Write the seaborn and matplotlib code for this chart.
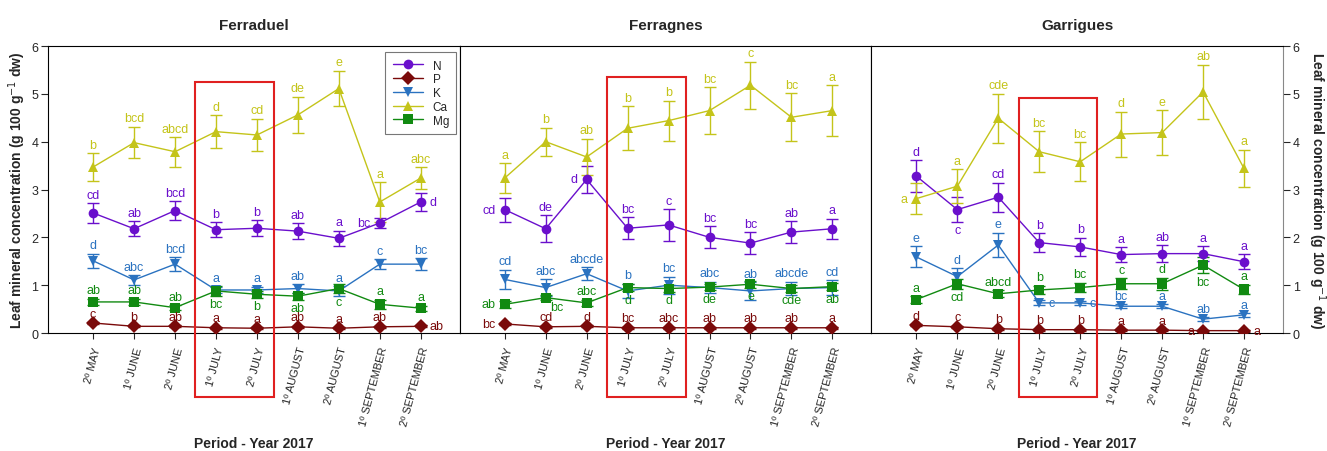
import pandas as pd
import matplotlib.pyplot as plt
import seaborn as sns
from matplotlib.patches import Rectangle

periods = ["2º MAY", "1º JUNE", "2º JUNE", "1º JULY", "2º JULY",
           "1º AUGUST", "2º AUGUST", "1º SEPTEMBER", "2º SEPTEMBER"]
elements = ["N", "P", "K", "Ca", "Mg"]
cultivars = ["Ferraduel", "Ferragnes", "Garrigues"]

ferraduel_mean = {
    "N": [2.51, 2.18, 2.56, 2.16, 2.19, 2.13, 1.98, 2.30, 2.74],
    "P": [0.21, 0.14, 0.14, 0.11, 0.10, 0.13, 0.10, 0.13, 0.14],
    "K": [1.51, 1.11, 1.44, 0.90, 0.90, 0.93, 0.88, 1.44, 1.44],
    "Ca": [3.47, 3.98, 3.79, 4.21, 4.14, 4.56, 5.11, 2.74, 3.24],
    "Mg": [0.65, 0.65, 0.53, 0.88, 0.81, 0.77, 0.93, 0.60, 0.52],
}
ferraduel_err = {
    "N": [0.20, 0.16, 0.19, 0.16, 0.17, 0.16, 0.16, 0.10, 0.18],
    "P": [0.02, 0.02, 0.02, 0.02, 0.02, 0.02, 0.02, 0.02, 0.02],
    "K": [0.15, 0.10, 0.14, 0.07, 0.07, 0.09, 0.10, 0.10, 0.13],
    "Ca": [0.29, 0.33, 0.31, 0.34, 0.34, 0.38, 0.37, 0.41, 0.23],
    "Mg": [0.07, 0.07, 0.05, 0.10, 0.07, 0.07, 0.10, 0.10, 0.05],
}
ferraduel_letters = {
    "N": ["cd", "ab", "bcd", "b", "b", "ab", "a", "bc", "d"],
    "P": ["c", "b", "ab", "a", "a", "ab", "a", "ab", "ab"],
    "K": ["d", "abc", "bcd", "a", "a", "ab", "a", "c", "bc"],
    "Ca": ["b", "bcd", "abcd", "d", "cd", "de", "e", "a", "abc"],
    "Mg": ["ab", "ab", "ab", "bc", "b", "ab", "c", "a", "a"],
}

ferragnes_mean = {
    "N": [2.58, 2.18, 3.21, 2.19, 2.26, 2.00, 1.88, 2.11, 2.18],
    "P": [0.19, 0.13, 0.14, 0.11, 0.11, 0.11, 0.11, 0.11, 0.11],
    "K": [1.12, 0.95, 1.24, 0.88, 1.00, 0.95, 0.88, 0.93, 0.95],
    "Ca": [3.24, 4.00, 3.68, 4.28, 4.44, 4.65, 5.18, 4.51, 4.65],
    "Mg": [0.60, 0.74, 0.63, 0.95, 0.93, 0.96, 1.02, 0.93, 0.97],
}
ferragnes_err = {
    "N": [0.25, 0.28, 0.28, 0.23, 0.33, 0.23, 0.23, 0.23, 0.21],
    "P": [0.02, 0.02, 0.02, 0.02, 0.02, 0.02, 0.02, 0.02, 0.02],
    "K": [0.20, 0.18, 0.14, 0.15, 0.18, 0.12, 0.18, 0.14, 0.15],
    "Ca": [0.31, 0.29, 0.38, 0.46, 0.42, 0.49, 0.49, 0.50, 0.53],
    "Mg": [0.07, 0.06, 0.07, 0.08, 0.07, 0.07, 0.07, 0.07, 0.08],
}
ferragnes_letters = {
    "N": ["cd", "de", "d", "bc", "c", "bc", "bc", "ab", "a"],
    "P": ["bc", "cd", "d", "bc", "abc", "ab", "ab", "ab", "a"],
    "K": ["cd", "abc", "abcde", "b", "bc", "abc", "ab", "abcde", "cd"],
    "Ca": ["a", "b", "ab", "b", "b", "bc", "c", "bc", "a"],
    "Mg": ["ab", "bc", "abc", "d", "d", "de", "e", "cde", "ab"],
}

garrigues_mean = {
    "N": [3.28, 2.58, 2.84, 1.89, 1.80, 1.64, 1.66, 1.66, 1.49],
    "P": [0.16, 0.13, 0.09, 0.07, 0.07, 0.06, 0.06, 0.05, 0.05],
    "K": [1.59, 1.18, 1.84, 0.63, 0.63, 0.56, 0.56, 0.29, 0.38],
    "Ca": [2.81, 3.07, 4.49, 3.79, 3.58, 4.16, 4.19, 5.04, 3.44],
    "Mg": [0.70, 1.03, 0.82, 0.90, 0.95, 1.03, 1.03, 1.42, 0.91],
}
garrigues_err = {
    "N": [0.33, 0.26, 0.30, 0.20, 0.19, 0.16, 0.17, 0.16, 0.16],
    "P": [0.02, 0.02, 0.02, 0.02, 0.02, 0.02, 0.02, 0.02, 0.02],
    "K": [0.22, 0.17, 0.26, 0.05, 0.04, 0.04, 0.04, 0.04, 0.04],
    "Ca": [0.32, 0.35, 0.51, 0.43, 0.41, 0.47, 0.47, 0.57, 0.39],
    "Mg": [0.07, 0.10, 0.07, 0.09, 0.10, 0.12, 0.13, 0.17, 0.10],
}
garrigues_letters = {
    "N": ["d", "c", "cd", "b", "b", "a", "ab", "a", "a"],
    "P": ["d", "c", "b", "b", "b", "a", "a", "a", "a"],
    "K": ["e", "d", "e", "c", "c", "bc", "a", "ab", "a"],
    "Ca": ["a", "a", "cde", "bc", "bc", "d", "e", "ab", "a"],
    "Mg": ["a", "cd", "abcd", "b", "bc", "c", "d", "bc", "a"],
}

means = [ferraduel_mean, ferragnes_mean, garrigues_mean]
errs = [ferraduel_err, ferragnes_err, garrigues_err]
letters = [ferraduel_letters, ferragnes_letters, garrigues_letters]

# where letters are not above the error bar (panel, element, index) -> side
label_side = {
    (0, "N", 7): "l", (0, "N", 8): "r", (0, "P", 8): "r",
    (0, "Mg", 3): "b", (0, "Mg", 4): "b", (0, "Mg", 5): "b", (0, "Mg", 6): "b",
    (1, "N", 0): "l", (1, "N", 2): "l", (1, "P", 0): "l", (1, "Mg", 0): "l",
    (1, "Mg", 1): "br", (1, "Mg", 3): "b", (1, "Mg", 4): "b", (1, "Mg", 5): "b",
    (1, "Mg", 6): "b", (1, "Mg", 7): "b", (1, "Mg", 8): "b",
    (2, "N", 1): "b", (2, "P", 7): "l", (2, "P", 8): "r",
    (2, "K", 3): "r", (2, "K", 4): "r", (2, "Ca", 0): "l",
    (2, "Mg", 1): "b", (2, "Mg", 7): "b",
}
# red boxes around July: top of each box
box_top = [5.25, 5.35, 4.91]

colors = {"N": "#6a0fcc", "P": "#7a0a0a", "K": "#2a72c0", "Ca": "#c4c41a", "Mg": "#118a11"}
markers = {"N": "o", "P": "D", "K": "v", "Ca": "^", "Mg": "s"}

sns.set_style("ticks")
plt.rcParams["font.family"] = ["Liberation Sans", "DejaVu Sans"]

fig = plt.figure(figsize=(13.27, 4.52), dpi=100)
x0, w, y0, h = 0.0362, 0.3102, 0.261, 0.635
axes = [fig.add_axes([x0 + i * w, y0, w, h]) for i in range(3)]

for i, ax in enumerate(axes):
    rows = []
    for el in elements:
        for j, p in enumerate(periods):
            rows.append({"x": j, "value": means[i][el][j], "err": errs[i][el][j], "element": el})
    df = pd.DataFrame(rows)

    sns.lineplot(data=df, x="x", y="value", hue="element", style="element",
                 markers=markers, dashes=False, palette=colors, markersize=7,
                 markeredgewidth=0, linewidth=1, ax=ax, legend=(i == 0), zorder=3)
    for el in elements:
        sub = df[df["element"] == el]
        ax.errorbar(sub["x"], sub["value"], yerr=sub["err"], fmt="none",
                    ecolor=colors[el], elinewidth=1, capsize=4.5, capthick=1, zorder=2)
        for j in range(len(periods)):
            v = means[i][el][j]
            e = errs[i][el][j]
            side = label_side.get((i, el, j), "t")
            if side == "t":
                xy, ha, va = (j, v + e + 0.05), "center", "bottom"
            elif side == "b":
                xy, ha, va = (j, v - e - 0.05), "center", "top"
            elif side == "br":
                xy, ha, va = (j + 0.12, v - e - 0.02), "left", "top"
            elif side == "l":
                xy, ha, va = (j - 0.22, v), "right", "center"
            else:
                xy, ha, va = (j + 0.22, v), "left", "center"
            ax.text(xy[0], xy[1], letters[i][el][j], ha=ha, va=va,
                    fontsize=9, color=colors[el])

    ax.add_patch(Rectangle((2.5, -1.34), 1.92, box_top[i] + 1.34, fill=False,
                           edgecolor="#e02020", linewidth=1.5, clip_on=False, zorder=5))

    ax.set_xlim(-1.1, 8.95)
    ax.set_ylim(0, 6)
    ax.set_xticks(range(len(periods)))
    ax.set_xticklabels(periods, rotation=75, ha="right", rotation_mode="anchor", fontsize=8)
    ax.set_xlabel("Period - Year 2017", fontsize=10, fontweight="bold")
    ax.xaxis.set_label_coords(0.5, -0.36)
    ax.set_ylabel("")
    ax.set_title(cultivars[i], fontsize=11, fontweight="bold", pad=12)
    ax.tick_params(axis="x", direction="out", length=4, width=0.8, pad=5)
    ax.tick_params(axis="y", direction="out", length=5, width=0.8, labelsize=9, pad=2)
    for s in ax.spines.values():
        s.set_linewidth(0.8)
        s.set_color("black")

axes[0].set_ylabel("Leaf mineral concentration (g 100 g$^{-1}$ dw)",
                   fontsize=10, fontweight="bold")
axes[0].yaxis.set_label_coords(-0.048, 0.5)
axes[1].tick_params(axis="y", left=False, labelleft=False)
axes[2].tick_params(axis="y", left=False, labelleft=False, right=True, labelright=True)
axes[2].yaxis.set_label_position("right")
axes[2].set_ylabel("Leaf mineral concentration (g 100 g$^{-1}$ dw)",
                   fontsize=10, fontweight="bold", rotation=270, labelpad=20)
axes[2].spines["right"].set_color("#888888")

leg = axes[0].legend(loc="upper right", bbox_to_anchor=(1.0, 0.99), fontsize=8.5,
                     frameon=True, fancybox=False, edgecolor="#555555",
                     handlelength=2.6, borderpad=0.6, labelspacing=0.15,
                     borderaxespad=0.3, title=None)
leg.get_frame().set_linewidth(0.8)

fig.savefig("out.png", dpi=100)
